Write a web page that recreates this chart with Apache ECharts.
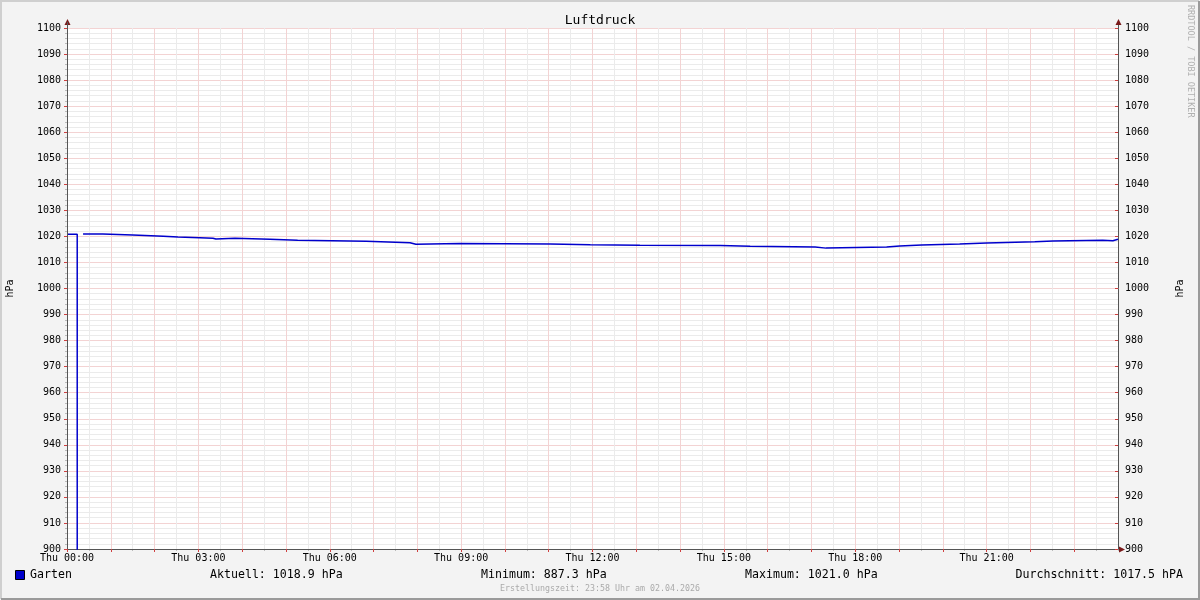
<!DOCTYPE html>
<html><head><meta charset="utf-8">
<script src="https://cdn.jsdelivr.net/npm/echarts@6/dist/echarts.min.js"></script>
<style>html,body{margin:0;padding:0;background:#f3f3f3}#c{width:1200px;height:600px}</style>
</head><body><div id="c"></div>
<script>
const chartTitle = 'Luftdruck';
const seriesName = 'Garten';
const unit = 'hPa';
// time in minutes since Thu 00:00
const timesMin = [0, 14, 16, 22, 49, 90, 132, 152, 182, 200, 204, 230, 278, 316, 410, 470, 474, 478, 538, 662, 717, 785, 895, 936, 1025, 1040, 1123, 1141, 1171, 1223, 1260, 1326, 1351, 1419, 1433, 1440];
const values   = [1020.8, 887.3, null, 1020.9, 1020.5, 1020.1, 1019.8, 1019.5, 1019.3, 1019.0, 1019.3, 1018.9, 1018.5, 1018.1, 1017.6, 1017.3, 1017.0, 1017.3, 1017.1, 1016.8, 1016.6, 1016.5, 1016.2, 1015.9, 1015.5, 1015.9, 1016.3, 1016.7, 1017.1, 1017.5, 1017.9, 1018.2, 1018.5, 1018.3, 1018.9, 1018.9];
const yMin = 900, yMax = 1100;
const xMin = 0, xMax = 1440;
const dayLabel = 'Thu';
const statLabels = ['Aktuell: 1018.9 hPa', 'Minimum: 887.3 hPa', 'Maximum: 1021.0 hPa', 'Durchschnitt: 1017.5 hPA'];
const footerText = 'Erstellungszeit: 23:58 Uhr am 02.04.2026';
const watermark = 'RRDTOOL / TOBI OETIKER';

const MONO = '"DejaVu Sans Mono", "Liberation Mono", monospace';
const MINOR = '#ebebeb', MAJOR = '#f3d3d3', AXIS = '#555555', ARROW = '#7a1a1a';
const G = {left: 67, right: 82, top: 28, bottom: 51};
const pad = n => (n < 10 ? '0' : '') + n;

const data = timesMin.map((t, i) => [t, values[i]]);

const chart = echarts.init(document.getElementById('c'), null, {renderer: 'canvas'});
chart.setOption({
  backgroundColor: '#f3f3f3',
  animation: false,
  title: {text: chartTitle, left: 'center', top: 9, textStyle: {fontFamily: MONO, fontSize: 13, fontWeight: 'normal', color: '#000'}},
  grid: {left: G.left, right: G.right, top: G.top, bottom: G.bottom, show: true, backgroundColor: '#ffffff', borderWidth: 0, containLabel: false, outerBoundsMode: 'none'},
  xAxis: [
    {type: 'value', min: xMin, max: xMax, interval: 30, position: 'bottom', z: 0,
     axisLine: {show: false}, axisLabel: {show: false},
     axisTick: {show: true, length: 2, inside: false, lineStyle: {color: '#bbbbbb'}},
     splitLine: {show: true, showMinLine: true, showMaxLine: true, lineStyle: {color: [MAJOR, MINOR], type: 'solid', width: 1}}},
    {type: 'value', min: xMin, max: xMax, interval: 60, position: 'bottom', z: 3,
     axisLine: {show: true, lineStyle: {color: AXIS, width: 1}},
     axisTick: {show: true, length: 3, inside: false, lineStyle: {color: '#d04040'}},
     axisLabel: {show: true, margin: 4, fontFamily: MONO, fontSize: 10, color: '#000', showMaxLabel: false,
       formatter: v => (v % 180 === 0 && v < xMax) ? dayLabel + ' ' + pad(v / 60) + ':00' : ''},
     splitLine: {show: false}}
  ],
  yAxis: [
    {type: 'value', min: yMin, max: yMax, interval: 2, position: 'left', z: 0,
     axisLine: {show: false}, axisLabel: {show: false},
     axisTick: {show: true, length: 2, lineStyle: {color: '#bbbbbb'}},
     splitLine: {show: true, showMinLine: true, showMaxLine: true, lineStyle: {color: [MAJOR, MINOR, MINOR, MINOR, MINOR], type: 'solid', width: 1}}},
    {type: 'value', min: yMin, max: yMax, interval: 10, position: 'left', z: 3,
     name: unit, nameLocation: 'middle', nameGap: 52, nameRotate: 90,
     nameTextStyle: {fontFamily: MONO, fontSize: 10, color: '#000'},
     axisLine: {show: true, lineStyle: {color: AXIS, width: 1}},
     axisTick: {show: true, length: 3, lineStyle: {color: '#d04040'}},
     axisLabel: {show: true, margin: 6, fontFamily: MONO, fontSize: 10, color: '#000', formatter: v => String(v)},
     splitLine: {show: false}},
    {type: 'value', min: yMin, max: yMax, interval: 10, position: 'right', z: 3,
     name: unit, nameLocation: 'middle', nameGap: 57, nameRotate: 90,
     nameTextStyle: {fontFamily: MONO, fontSize: 10, color: '#000'},
     axisLine: {show: true, lineStyle: {color: AXIS, width: 1}},
     axisTick: {show: true, length: 3, inside: true, lineStyle: {color: '#d04040'}},
     axisLabel: {show: true, margin: 7, fontFamily: MONO, fontSize: 10, color: '#000', formatter: v => String(v)},
     splitLine: {show: false}}
  ],
  series: [{
    name: seriesName, type: 'line', xAxisIndex: 1, yAxisIndex: 1,
    step: 'end', data: data, showSymbol: false, connectNulls: false, clip: true,
    lineStyle: {color: '#0000cc', width: 1.5}, z: 5
  }],
  graphic: [
    {type: 'polyline', shape: {points: [[1, 599], [1, 1], [1199, 1]]}, style: {stroke: '#cfcfcf', lineWidth: 2, fill: null}, silent: true},
    {type: 'polyline', shape: {points: [[1, 599], [1199, 599], [1199, 1]]}, style: {stroke: '#9a9a9a', lineWidth: 2, fill: null}, silent: true},
    {type: 'line', shape: {x1: 67.5, y1: 22, x2: 67.5, y2: 549}, style: {stroke: AXIS, lineWidth: 1}, z: 10},
    {type: 'line', shape: {x1: 1118.5, y1: 22, x2: 1118.5, y2: 28}, style: {stroke: AXIS, lineWidth: 1}},
    {type: 'line', shape: {x1: 1118, y1: 549.5, x2: 1122, y2: 549.5}, style: {stroke: AXIS, lineWidth: 1}},
    {type: 'polygon', shape: {points: [[67.5, 19], [64.5, 25], [70.5, 25]]}, style: {fill: ARROW}},
    {type: 'polygon', shape: {points: [[1118.5, 19], [1115.5, 25], [1121.5, 25]]}, style: {fill: ARROW}},
    {type: 'polygon', shape: {points: [[1125, 549.5], [1119, 546.5], [1119, 552.5]]}, style: {fill: ARROW}},
    {type: 'text', x: 1190, y: 5, rotation: -Math.PI / 2,
     style: {text: watermark, fontFamily: MONO, fontSize: 8.5, fill: '#b0b0b0', textAlign: 'left', textVerticalAlign: 'middle'}},
    {type: 'rect', shape: {x: 15.5, y: 570.5, width: 9, height: 9}, style: {fill: '#0000cc', stroke: '#000', lineWidth: 1}},
    {type: 'text', x: 30, y: 575, style: {text: seriesName, fontFamily: MONO, fontSize: 11.6, fill: '#000', textVerticalAlign: 'middle'}},
    {type: 'text', x: 210, y: 575, style: {text: statLabels[0], fontFamily: MONO, fontSize: 11.6, fill: '#000', textVerticalAlign: 'middle'}},
    {type: 'text', x: 481, y: 575, style: {text: statLabels[1], fontFamily: MONO, fontSize: 11.6, fill: '#000', textVerticalAlign: 'middle'}},
    {type: 'text', x: 745, y: 575, style: {text: statLabels[2], fontFamily: MONO, fontSize: 11.6, fill: '#000', textVerticalAlign: 'middle'}},
    {type: 'text', x: 1183, y: 575, style: {text: statLabels[3], fontFamily: MONO, fontSize: 11.6, fill: '#000', textAlign: 'right', textVerticalAlign: 'middle'}},
    {type: 'text', x: 600, y: 589, style: {text: footerText, fontFamily: MONO, fontSize: 8.3, fill: '#aaaaaa', textAlign: 'center', textVerticalAlign: 'middle'}}
  ]
});
</script>
</body></html>
